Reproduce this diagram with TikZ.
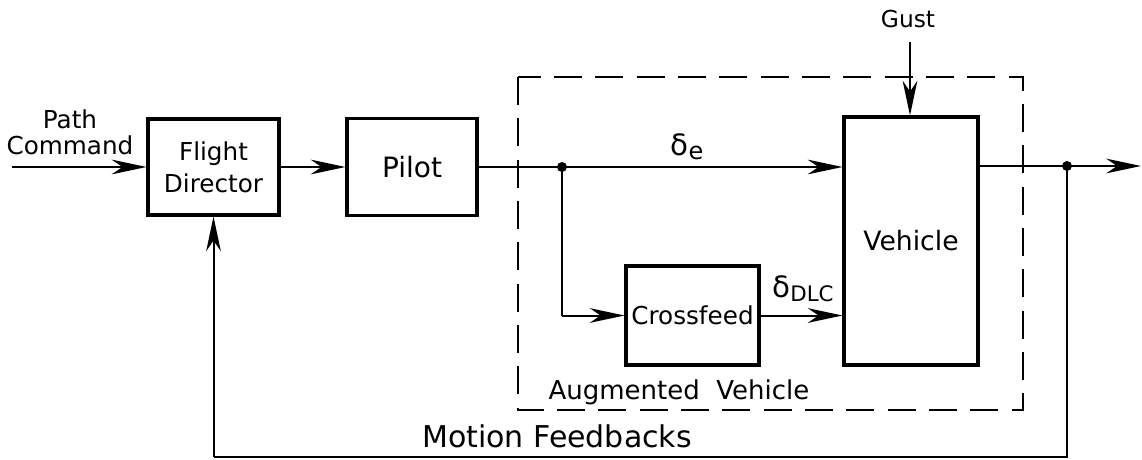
\documentclass[tikz,border=0pt]{standalone}
\usepackage{fontspec}
\setmainfont{DejaVu Sans}
\usetikzlibrary{arrows.meta}
\begin{document}
\begin{tikzpicture}[x=0.75pt,y=-0.75pt,
  block/.style={draw, line width=2.3pt, inner sep=0pt, align=center, font=\fontsize{18.5}{24}\selectfont},
  lbl/.style={inner sep=0pt, align=center, font=\fontsize{18.5}{19.5}\selectfont},
  sig/.style={line width=1.5pt, -{Stealth[length=26pt,width=11pt,inset=8pt]}},
  wire/.style={line width=1.5pt},
  dot/.style={circle, fill, inner sep=0pt, minimum size=7.5pt},
  aug/.style={dash pattern=on 21pt off 10pt, line width=1.8pt}]
\useasboundingbox (0,0) rectangle (1142,460);

% blocks
\node[block, minimum width=98.25pt, minimum height=72pt] (fd) at (213.5,167) {Flight\\Director};
\node[block, minimum width=97.5pt, minimum height=72.75pt, font=\fontsize{21}{24}\selectfont] (pilot) at (412,167) {Pilot};
\node[block, minimum width=100.5pt, minimum height=186pt, font=\fontsize{20}{24}\selectfont] (veh) at (911,241) {Vehicle};
\node[block, minimum width=99.75pt, minimum height=74.25pt] (cf) at (692.5,315.5) {Crossfeed};

% augmented vehicle boundary
\draw[aug] (518,77) rectangle (1023,410);

% labels
\node[lbl] (pc) at (70,132) {Path\\Command};
\node[lbl, font=\fontsize{17.5}{18}\selectfont] (gust) at (908,19) {Gust};
\node[lbl, font=\fontsize{22}{22}\selectfont] (de) at (687,147) {δ\raisebox{-3pt}{\fontsize{18}{18}\selectfont e}};
\node[lbl, font=\fontsize{22}{22}\selectfont] (ddlc) at (803,289) {δ\raisebox{-3pt}{\fontsize{16}{16}\selectfont DLC}};
\node[lbl, anchor=base, font=\fontsize{19.5}{20}\selectfont] (augl) at (679,399) {Augmented\ \ Vehicle};
\node[lbl, anchor=base, font=\fontsize{22.5}{23}\selectfont] (mfb) at (557,447) {Motion Feedbacks};

% coordinates
\coordinate (pcin) at (12,167);
\coordinate (br) at (562,167);
\coordinate (gtop) at (910,42);
\coordinate (od) at (1067,166);
\coordinate (outend) at (1141,166);
\coordinate (fbr) at (1067,457);
\coordinate (fbl) at (213.5,457);

% connectors
\draw[sig] (pcin) -- (fd.west);
\draw[sig] (fd.east) -- (pilot.west);
\draw[wire] (pilot.east) -- (br);
\draw[sig] (br) -- (br -| veh.west);
\draw[wire] (br) -- (br |- cf.west);
\draw[sig] (br |- cf.west) -- (cf.west);
\draw[sig] (cf.east) -- (veh.west |- cf.east);
\draw[sig] (gtop) -- (gtop |- veh.north);
\draw[wire] (veh.east |- od) -- (od);
\draw[sig] (od) -- (outend);
\draw[wire] (od) -- (fbr) -- (fbl);
\draw[sig] (fbl) -- (fd.south);
\node[dot] at (br) {};
\node[dot] at (od) {};
\end{tikzpicture}
\end{document}
